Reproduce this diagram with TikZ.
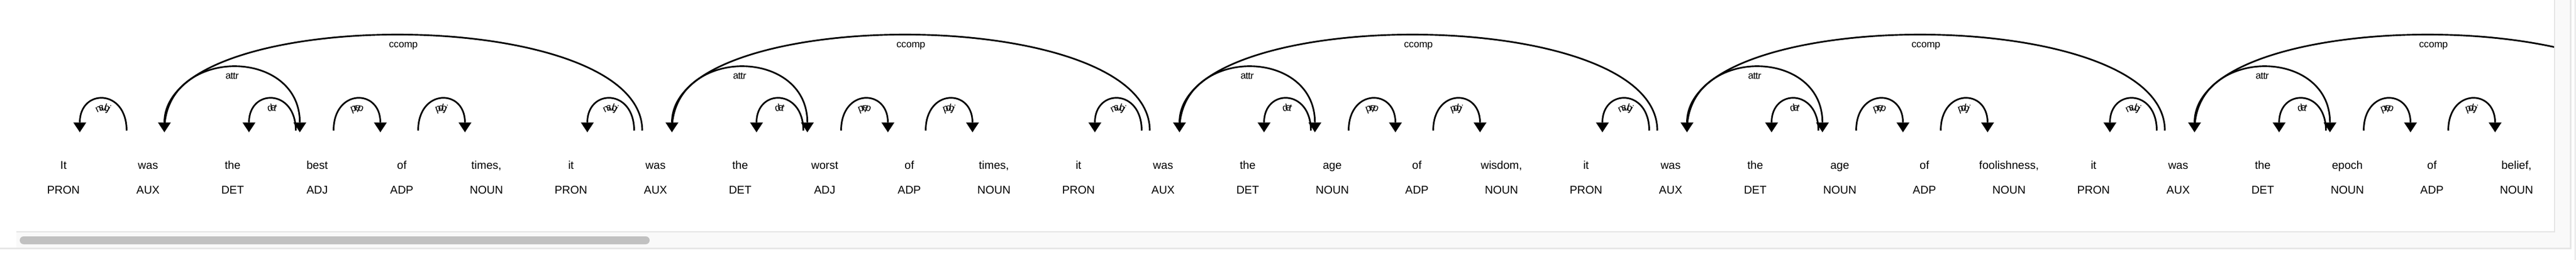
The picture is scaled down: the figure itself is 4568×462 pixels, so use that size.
\documentclass[tikz,border=0pt]{standalone}
\usepackage{fontspec}
\setmainfont{Liberation Sans}
\usetikzlibrary{arrows.meta,calc,decorations.text}

\definecolor{framegray}{HTML}{E4E4E4}
\definecolor{trackgray}{HTML}{F9F9F9}
\definecolor{thumbgray}{HTML}{C1C1C1}
\definecolor{shadowgray}{HTML}{E6E6E6}
\definecolor{edgegray}{HTML}{D2D2D2}

\newcommand{\wordfont}{\fontsize{20}{24}\selectfont}
\newcommand{\lblfont}{\fontsize{17.5}{20}\selectfont}

\tikzset{
  token/.style={font=\wordfont, anchor=base, inner sep=0pt},
  arcline/.style={line width=2.9pt},
  dephead/.tip={Triangle[width=23pt,length=17.4pt,line width=0pt]},
  headleft/.style={dephead-, shorten <=-3pt},
  headright/.style={-dephead, shorten >=-3pt},
}

% dependency arc: from slot, to slot, level, label, head side
\newcommand{\deparc}[5]{%
  \pgfmathsetmacro\ctrl{-75*#3}
  \pgfmathsetmacro\endoff{45.2-7.2*#3}
  \draw[arcline, #5] ($(a#1)+(29,0)$) .. controls +(0,\ctrl) and +(0,\ctrl) .. ($(a#2)+(-\endoff,0)$);
  \path[decorate, decoration={text along path, text={|\lblfont|#4}, text align=center, raise=-21pt}]
    ($(a#1)+(29,0)$) .. controls +(0,\ctrl) and +(0,\ctrl) .. ($(a#2)+(-\endoff,0)$);
}

\begin{document}
\begin{tikzpicture}[x=1pt, y=-1pt]
  \useasboundingbox (0,0) rectangle (4568,462);

  % Scroll frame
  \fill[trackgray] (29,410) rectangle (4557,441);
  \fill[trackgray] (4530,0) rectangle (4557,441);
  \draw[framegray, line width=2pt] (4530.3,0) -- (4530.3,411.7) -- (29,411.7);
  \draw[shadowgray, line width=2.5pt] (0,441.5) -- (4558.5,441.5) -- (4558.5,0);
  \draw[edgegray, line width=1pt] (4566.5,0) -- (4566.5,462);
  \fill[thumbgray, rounded corners=7pt] (35,420) rectangle (1152,434);

  % Arc foot points, one per token slot
  \foreach \i in {0,...,31}
    \coordinate (a\i) at (112.5+150*\i, 232);

  % Tokens and tags
  \foreach \w/\t [count=\i from 0] in {It/PRON, was/AUX, the/DET, best/ADJ, of/ADP, {times,}/NOUN,
      it/PRON, was/AUX, the/DET, worst/ADJ, of/ADP, {times,}/NOUN,
      it/PRON, was/AUX, the/DET, age/NOUN, of/ADP, {wisdom,}/NOUN,
      it/PRON, was/AUX, the/DET, age/NOUN, of/ADP, {foolishness,}/NOUN,
      it/PRON, was/AUX, the/DET, epoch/NOUN, of/ADP, {belief,}/NOUN}
  {
    \node[token] (w\i) at ($(a\i)+(0,68)$) {\w};
    \node[token] (t\i) at ($(a\i)+(0,112)$) {\t};
  }

  % Arcs, clause by clause
  \begin{scope}
    \clip (0,0) rectangle (4529,411);
    \foreach \k in {0,6,...,24} {
      \pgfmathtruncatemacro\v{\k+1}
      \pgfmathtruncatemacro\d{\k+2}
      \pgfmathtruncatemacro\n{\k+3}
      \pgfmathtruncatemacro\p{\k+4}
      \pgfmathtruncatemacro\o{\k+5}
      \pgfmathtruncatemacro\h{\k+7}
      \deparc{\k}{\v}{1}{nsubj}{headleft}
      \deparc{\v}{\n}{2}{attr}{headright}
      \deparc{\d}{\n}{1}{det}{headleft}
      \deparc{\n}{\p}{1}{prep}{headright}
      \deparc{\p}{\o}{1}{pobj}{headright}
      \deparc{\v}{\h}{3}{ccomp}{headleft}
    }
  \end{scope}
\end{tikzpicture}
\end{document}
